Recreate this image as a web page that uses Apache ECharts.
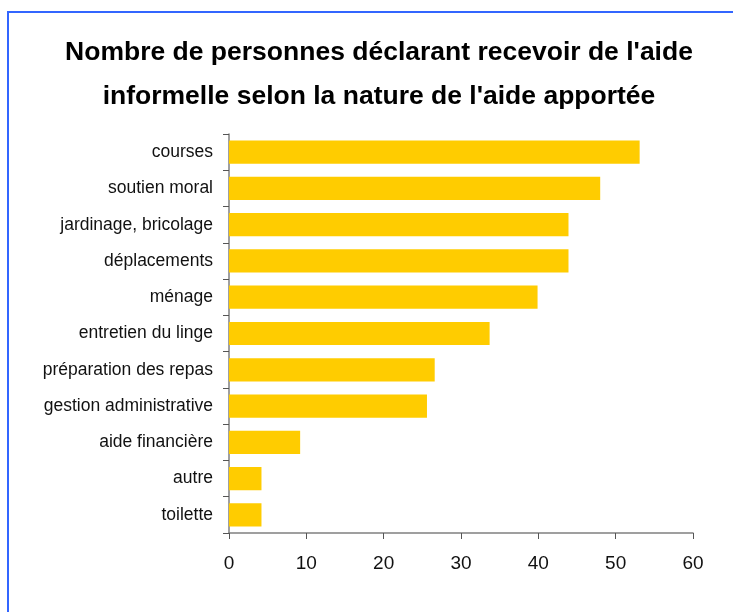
<!DOCTYPE html>
<html>
<head>
<meta charset="utf-8" />
<title>Aide informelle</title>
<script src="https://cdn.jsdelivr.net/npm/echarts@6/dist/echarts.min.js"></script>
<style>
	html, body { margin: 0; padding: 0; background: #fff; }
	#chart { width: 733px; height: 612px; }
</style>
</head>
<body>
<div id="chart"></div>
<script>
	// données
	var categories = ['courses', 'soutien moral', 'jardinage, bricolage', 'déplacements', 'ménage',
		'entretien du linge', 'préparation des repas', 'gestion administrative', 'aide financière', 'autre', 'toilette'];
	var values = [53.1, 48, 43.9, 43.9, 39.9, 33.7, 26.6, 25.6, 9.2, 4.2, 4.2];
	var xTicks = [0, 10, 20, 30, 40, 50, 60];

	var font = 'Liberation Sans, Arial, sans-serif';
	var myChart = echarts.init(document.getElementById('chart'));

	myChart.setOption({
		animation: false,
		title: {
			text: "Nombre de personnes déclarant recevoir de l'aide\ninformelle selon la nature de l'aide apportée",
			left: 374,
			top: 26,
			textAlign: 'center',
			textStyle: {
				fontFamily: font,
				fontWeight: 'bold',
				fontSize: 26.5,
				lineHeight: 44,
				color: '#000'
			}
		},
		graphic: [{
			type: 'rect',
			shape: { x: 8, y: 12, width: 760, height: 640 },
			style: { fill: 'none', stroke: '#3366ff', lineWidth: 2 },
			silent: true
		}],
		grid: {
			left: 229,
			right: 40,
			top: 134,
			bottom: 79
		},
		xAxis: {
			type: 'value',
			min: xTicks[0],
			max: xTicks[xTicks.length - 1],
			interval: 10,
			splitLine: { show: false },
			axisLine: { show: true, lineStyle: { color: '#808080', width: 1.5 } },
			axisTick: { show: true, length: 6, lineStyle: { color: '#555' } },
			axisLabel: {
				margin: 21,
				fontFamily: font,
				fontSize: 19,
				color: '#111'
			}
		},
		yAxis: {
			type: 'category',
			data: categories,
			inverse: true,
			axisLine: { show: true, lineStyle: { color: '#808080', width: 1.5 } },
			axisTick: { show: true, length: 6, lineStyle: { color: '#555' } },
			axisLabel: {
				margin: 16,
				fontFamily: font,
				fontSize: 17.5,
				color: '#111'
			}
		},
		series: [{
			type: 'bar',
			data: values,
			barCategoryGap: '36%',
			itemStyle: { color: '#ffcc00' }
		}]
	});
</script>
</body>
</html>
